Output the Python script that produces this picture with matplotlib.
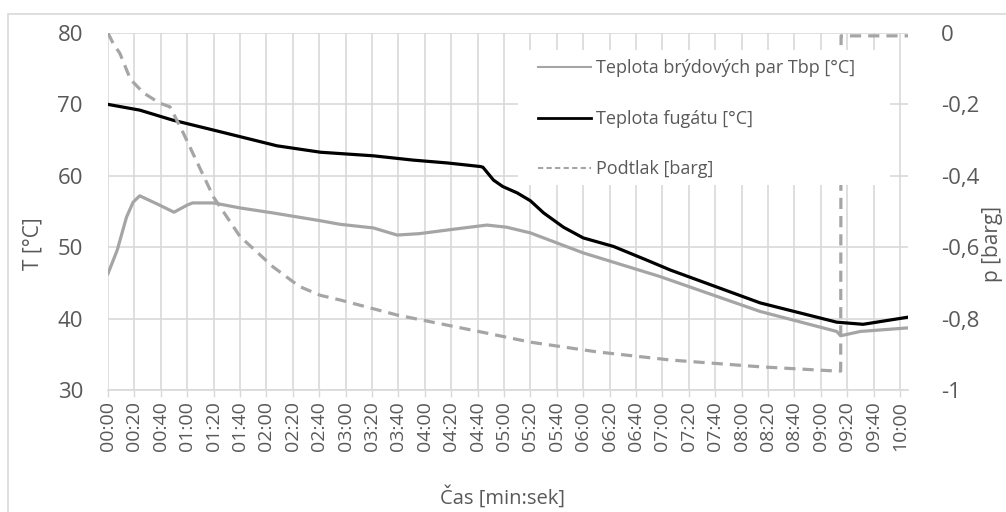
import matplotlib
matplotlib.use("Agg")
import matplotlib.pyplot as plt
from matplotlib.lines import Line2D
from matplotlib.patches import Rectangle

plt.rcParams["font.family"] = ["Open Sans", "DejaVu Sans"]

# Time in seconds for each series
tbp_t = [0, 7, 14, 19, 24, 39, 50, 60, 64, 80, 100, 125, 161, 176, 201, 219,
         236, 261, 287, 302, 320, 360, 418, 494, 552, 555, 570, 606]
tbp_v = [46.3, 49.6, 54.2, 56.3, 57.2, 55.9, 54.9, 55.9, 56.2, 56.2, 55.5,
         54.8, 53.7, 53.2, 52.7, 51.7, 51.9, 52.5, 53.1, 52.8, 52.0, 49.2,
         45.9, 41.0, 38.2, 37.6, 38.2, 38.7]

fug_t = [0, 24, 49, 80, 128, 161, 201, 231, 257, 282, 284, 292, 299, 310, 320,
         330, 345, 360, 383, 408, 426, 494, 552, 572, 606]
fug_v = [70.0, 69.2, 67.8, 66.4, 64.2, 63.3, 62.8, 62.2, 61.8, 61.3, 61.2,
         59.4, 58.5, 57.6, 56.5, 54.8, 52.8, 51.3, 50.1, 48.2, 46.8, 42.2,
         39.5, 39.2, 40.2]

p_t = [0, 4, 9, 17, 27, 39, 47, 57, 80, 100, 125, 145, 161, 176, 219, 282,
       320, 370, 426, 494, 552, 555, 555.3, 606]
p_v = [0.0, -0.03, -0.057, -0.13, -0.168, -0.196, -0.207, -0.28, -0.46, -0.57,
       -0.655, -0.71, -0.735, -0.748, -0.79, -0.837, -0.866, -0.893, -0.916,
       -0.935, -0.947, -0.947, -0.008, -0.008]

x_ticks = list(range(0, 601, 20))
x_labels = [f"{s // 60:02d}:{s % 60:02d}" for s in x_ticks]
y_ticks = [30, 40, 50, 60, 70, 80]
p_ticks = [0, -0.2, -0.4, -0.6, -0.8, -1]
p_labels = ["0", "-0,2", "-0,4", "-0,6", "-0,8", "-1"]

labels = ["Teplota brýdových par Tbp [°C]", "Teplota fugátu [°C]", "Podtlak [barg]"]

TXT = "#595959"
GRID = "#d9d9d9"
GRAY = "#a5a5a5"

W, H = 1006, 512
fig = plt.figure(figsize=(W / 100, H / 100), dpi=100)

# outer chart frame
fig.add_artist(Rectangle((8 / W, -0.1), 1.2, (H - 14) / H + 0.1,
                         transform=fig.transFigure, fill=False,
                         edgecolor=GRID, lw=1.2))

L, R, T, B = 108, 908, 33, 390
ax = fig.add_axes([L / W, 1 - B / H, (R - L) / W, (B - T) / H])
ax.set_xlim(0, 606)
ax.set_ylim(30, 80)
ax.set_xticks(x_ticks)
ax.set_xticklabels(x_labels, rotation=90, fontsize=14, color=TXT)
ax.set_yticks(y_ticks)
ax.set_yticklabels([str(v) for v in y_ticks], fontsize=16, color=TXT)
ax.tick_params(axis="y", length=0, pad=18)
ax.tick_params(axis="x", length=5, width=1, color=GRID, pad=3)
ax.grid(True, color=GRID, lw=1.2)
ax.set_axisbelow(True)
for s in ["left", "right", "top"]:
    ax.spines[s].set_visible(False)
ax.spines["bottom"].set_color(GRID)
ax.spines["bottom"].set_linewidth(1.2)

ax.plot(tbp_t, tbp_v, color=GRAY, lw=2.3, solid_joinstyle="round")
ax.plot(fug_t, fug_v, color="black", lw=2.3, solid_joinstyle="round")

ax.set_ylabel("T [°C]", fontsize=15, color=TXT)
ax.yaxis.set_label_coords(44 / W, 1 - 244 / H, transform=fig.transFigure)
ax.set_xlabel("Čas [min:sek]", fontsize=14.5, color=TXT)
ax.xaxis.set_label_coords(503 / W, 1 - 486 / H, transform=fig.transFigure)

ax2 = ax.twinx()
ax2.set_ylim(-1, 0)
ax2.set_yticks(p_ticks)
ax2.set_yticklabels(p_labels, fontsize=16, color=TXT)
ax2.tick_params(axis="y", length=0, pad=24)
for s in ax2.spines.values():
    s.set_visible(False)
ax2.plot(p_t, p_v, color=GRAY, lw=2.3, linestyle=(0, (3.5, 2.2)))
ax2.set_ylabel("p [barg]", fontsize=15, color=TXT, rotation=90)
ax2.yaxis.set_label_coords(982 / W, 1 - 244 / H, transform=fig.transFigure)

# legend box
ax2.add_patch(Rectangle((518 / W, 1 - 185 / H), (890 - 518) / W, 135 / H,
                        transform=fig.transFigure, facecolor="white",
                        edgecolor="none", zorder=5, clip_on=False))
handles = [Line2D([], [], color=GRAY, lw=1.5),
           Line2D([], [], color="black", lw=2.0),
           Line2D([], [], color=GRAY, lw=1.5, linestyle=(0, (2.5, 1.6)))]
leg = ax2.legend(handles, labels, loc="upper left",
                 bbox_to_anchor=(523 / W, 1 - 44 / H),
                 bbox_transform=fig.transFigure, frameon=False,
                 fontsize=13, handlelength=2.9, handletextpad=0.3,
                 labelspacing=1.8, borderpad=0.35, labelcolor=TXT)
leg.set_zorder(6)

fig.savefig("out.png", dpi=100)
